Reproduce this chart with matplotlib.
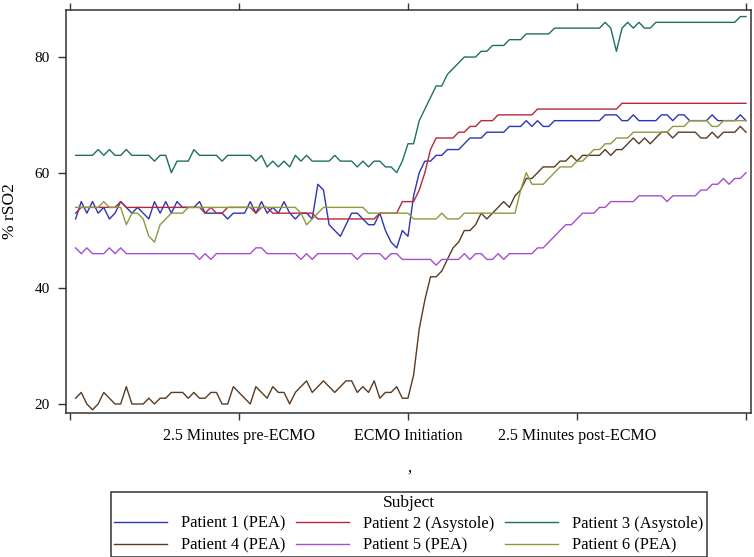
import numpy as np
import matplotlib
matplotlib.use('Agg')
import matplotlib.pyplot as plt

plt.rcParams['font.family'] = ['Liberation Serif', 'DejaVu Serif']

# one reading every 5 s, relative to ECMO initiation
seconds = np.arange(-295, 301, 5)
minutes = seconds / 60

patients = ['Patient 1 (PEA)', 'Patient 2 (Asystole)', 'Patient 3 (Asystole)',
            'Patient 4 (PEA)', 'Patient 5 (PEA)', 'Patient 6 (PEA)']
colors = ['#2b35b5', '#b5283c', '#1f6e63', '#5b3b1f', '#a24fd0', '#8c9a3c']

p1 = [52, 55, 53, 55, 53, 54, 52, 53, 55, 54,
      53, 54, 53, 52, 55, 53, 55, 53, 55, 54,
      54, 54, 55, 53, 53, 53, 53, 52, 53, 53,
      53, 55, 53, 55, 53, 54, 53, 55, 53, 52,
      53, 53, 52, 58, 57, 51, 50, 49, 51, 53,
      53, 52, 51, 51, 53, 50, 48, 47, 50, 49,
      56, 60, 62, 62, 63, 63, 64, 64, 64, 65,
      66, 66, 66, 67, 67, 67, 67, 68, 68, 68,
      69, 68, 69, 68, 68, 69, 69, 69, 69, 69,
      69, 69, 69, 69, 70, 70, 70, 69, 69, 70,
      69, 69, 69, 69, 70, 70, 69, 70, 70, 69,
      69, 69, 69, 70, 69, 69, 69, 69, 70, 69]
p2 = [53, 54, 54, 54, 54, 54, 54, 54, 55, 54,
      54, 54, 54, 54, 54, 54, 54, 54, 54, 54,
      54, 54, 54, 53, 54, 53, 53, 54, 54, 54,
      54, 54, 53, 54, 54, 53, 53, 53, 53, 53,
      53, 53, 53, 52, 52, 52, 52, 52, 52, 52,
      52, 52, 52, 52, 53, 53, 53, 53, 55, 55,
      55, 57, 60, 64, 66, 66, 66, 66, 67, 67,
      68, 68, 69, 69, 69, 70, 70, 70, 70, 70,
      70, 70, 71, 71, 71, 71, 71, 71, 71, 71,
      71, 71, 71, 71, 71, 71, 71, 72, 72, 72,
      72, 72, 72, 72, 72, 72, 72, 72, 72, 72,
      72, 72, 72, 72, 72, 72, 72, 72, 72, 72]
p3 = [63, 63, 63, 63, 64, 63, 64, 63, 63, 64,
      63, 63, 63, 63, 62, 63, 63, 60, 62, 62,
      62, 64, 63, 63, 63, 63, 62, 63, 63, 63,
      63, 63, 62, 63, 61, 62, 61, 62, 61, 63,
      62, 63, 62, 62, 62, 62, 63, 62, 62, 62,
      61, 62, 61, 62, 62, 61, 61, 60, 62, 65,
      65, 69, 71, 73, 75, 75, 77, 78, 79, 80,
      80, 80, 81, 81, 82, 82, 82, 83, 83, 83,
      84, 84, 84, 84, 84, 85, 85, 85, 85, 85,
      85, 85, 85, 85, 86, 85, 81, 85, 86, 85,
      86, 85, 85, 86, 86, 86, 86, 86, 86, 86,
      86, 86, 86, 86, 86, 86, 86, 86, 87, 87]
p4 = [21, 22, 20, 19, 20, 22, 21, 20, 20, 23,
      20, 20, 20, 21, 20, 21, 21, 22, 22, 22,
      21, 22, 21, 21, 22, 22, 20, 20, 23, 22,
      21, 20, 23, 22, 21, 23, 22, 22, 20, 22,
      23, 24, 22, 23, 24, 23, 22, 23, 24, 24,
      22, 23, 22, 24, 21, 22, 22, 23, 21, 21,
      25, 33, 38, 42, 42, 43, 45, 47, 48, 50,
      50, 51, 53, 52, 53, 54, 55, 54, 56, 57,
      59, 59, 60, 61, 61, 61, 62, 62, 63, 62,
      63, 63, 63, 63, 64, 63, 64, 64, 65, 66,
      65, 66, 65, 66, 67, 67, 66, 67, 67, 67,
      67, 66, 66, 67, 66, 67, 67, 67, 68, 67]
p5 = [47, 46, 47, 46, 46, 46, 47, 46, 47, 46,
      46, 46, 46, 46, 46, 46, 46, 46, 46, 46,
      46, 46, 45, 46, 45, 46, 46, 46, 46, 46,
      46, 46, 47, 47, 46, 46, 46, 46, 46, 46,
      45, 46, 45, 46, 46, 46, 46, 46, 46, 46,
      45, 46, 46, 46, 46, 45, 46, 46, 45, 45,
      45, 45, 45, 45, 44, 45, 45, 45, 45, 46,
      45, 46, 46, 45, 45, 46, 45, 46, 46, 46,
      46, 46, 47, 47, 48, 49, 50, 51, 51, 52,
      53, 53, 53, 54, 54, 55, 55, 55, 55, 55,
      56, 56, 56, 56, 56, 55, 56, 56, 56, 56,
      56, 57, 57, 58, 58, 59, 58, 59, 59, 60]
p6 = [54, 54, 54, 54, 54, 55, 54, 54, 54, 51,
      53, 53, 52, 49, 48, 51, 52, 53, 53, 53,
      54, 54, 54, 54, 54, 54, 54, 54, 54, 54,
      54, 54, 54, 54, 54, 54, 54, 54, 54, 54,
      53, 51, 52, 53, 54, 54, 54, 54, 54, 54,
      54, 54, 53, 53, 53, 53, 53, 53, 53, 53,
      52, 52, 52, 52, 52, 53, 52, 52, 52, 53,
      53, 53, 53, 53, 53, 53, 53, 53, 53, 57,
      60, 58, 58, 58, 59, 60, 61, 61, 61, 62,
      62, 63, 64, 64, 65, 65, 66, 66, 66, 67,
      67, 67, 67, 67, 67, 67, 68, 68, 68, 69,
      69, 69, 69, 68, 68, 69, 69, 69, 69, 69]

tick_pos = [-5, -2.5, 0, 2.5, 5]
tick_labels = ['', '2.5 Minutes pre-ECMO', 'ECMO Initiation', '2.5 Minutes post-ECMO', '']

fig = plt.figure(figsize=(7.54, 5.57), dpi=100)
ax = fig.add_axes([0.0875, 0.2585, 0.9085, 0.7235])

lines = []
for vals, name, c in zip([p1, p2, p3, p4, p5, p6], patients, colors):
    ln, = ax.plot(minutes, vals, color=c, lw=1.0, label=name)
    lines.append(ln)

ax.set_xlim(-5.059, 5.074)
ax.set_ylim(18.44, 88.13)
ax.set_xticks(tick_pos)
ax.set_xticklabels(tick_labels, fontsize=11.5)
ax.tick_params(axis='x', top=True, direction='out', length=5, width=1, pad=6, color='#333333')
ax.set_yticks([20, 40, 60, 80])
ax.tick_params(axis='y', direction='out', length=6, width=1, pad=5.5, labelsize=11, color='#333333')
for s in ax.spines.values():
    s.set_color('#333333')
    s.set_linewidth(1.1)

ax.set_ylabel('% rSO2', fontsize=12.5)
ax.yaxis.set_label_coords(-0.070, 0.5)
ax.set_xlabel(',', fontsize=12)
ax.xaxis.set_label_coords(0.502, -0.115)

# legend reads row by row: 1 2 3 / 4 5 6
order = [0, 3, 1, 4, 2, 5]
leg = fig.legend([lines[i] for i in order], [patients[i] for i in order],
                 loc='upper center', bbox_to_anchor=(0.5424, 0.1167), ncol=3,
                 title='Subject', fontsize=11.9, title_fontsize=12.5,
                 handlelength=3.2, handletextpad=0.85, columnspacing=0.65,
                 labelspacing=0.35, borderpad=0.2, borderaxespad=0,
                 fancybox=False, edgecolor='#333333', framealpha=1)
leg.get_frame().set_linewidth(1.1)
leg._legend_box.sep = 3.2

fig.savefig('out.png', dpi=100)
